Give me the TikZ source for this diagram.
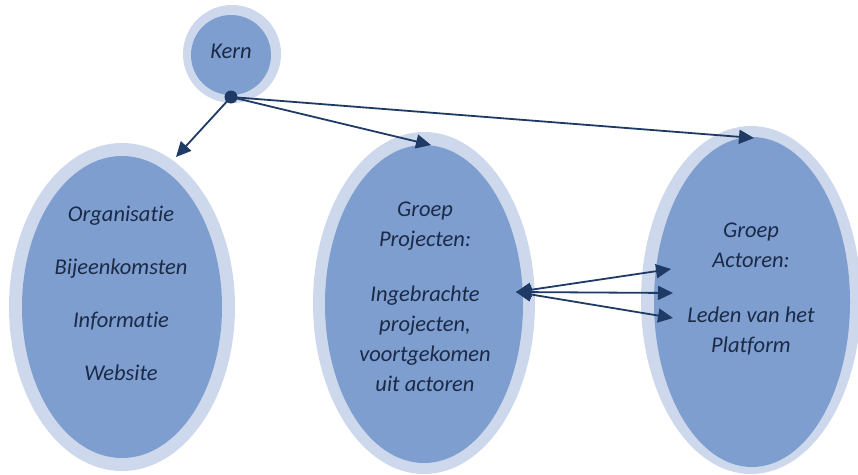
\documentclass[tikz,border=0pt]{standalone}
\usepackage{fontspec}
\setmainfont{Carlito}[Ligatures={NoCommon}]
\usetikzlibrary{shapes.geometric,arrows.meta}
\definecolor{ringc}{HTML}{CDD8EC}
\definecolor{fillc}{HTML}{7E9ECF}
\definecolor{txtc}{HTML}{1B2A47}
\definecolor{arrc}{HTML}{1F3A64}
\tikzset{
  ring/.style={ellipse, fill=ringc, draw=none, inner sep=0pt},
  core/.style={ellipse, fill=fillc, draw=none, inner sep=0pt},
  lbl/.style={text=txtc, font=\fontsize{22.5}{30}\selectfont\itshape, align=center, inner sep=0pt},
  conn/.style={draw=arrc, line width=1.8pt, -{Triangle[length=15pt,width=14pt]}},
  biconn/.style={draw=arrc, line width=1.8pt, {Triangle[length=15pt,width=14pt]}-{Triangle[length=15pt,width=14pt]}}
}
\begin{document}
\begin{tikzpicture}[x=1pt,y=-1pt]
\useasboundingbox (0,0) rectangle (858,474);
% Kern
\node[ring, minimum width=98pt, minimum height=98pt] (Ko) at (232,54) {};
\node[core, minimum width=80pt, minimum height=80pt] (Ki) at (231,55) {};
\node[lbl] (Kt) at (231,51) {Kern};
% left
\node[ring, minimum width=226pt, minimum height=328pt] (Lo) at (122,307) {};
\node[core, minimum width=200pt, minimum height=302pt] (Li) at (122,307) {};
\node[lbl] (Lt) at (121,293) {Organisatie\\[23pt]Bijeenkomsten\\[23pt]Informatie\\[23pt]Website};
% middle
\node[ring, minimum width=222pt, minimum height=342pt] (Mo) at (424,303) {};
\node[core, minimum width=198pt, minimum height=318pt] (Mi) at (424,304) {};
\node[lbl] (Mt) at (425,297) {Groep\\Projecten:\\[25pt]Ingebrachte\\projecten,\\voortgekomen\\uit actoren};
% right
\node[ring, minimum width=220pt, minimum height=348pt] (Ro) at (751,300) {};
\node[core, minimum width=196pt, minimum height=330pt] (Ri) at (752,302) {};
\node[lbl] (Rt) at (751,289) {Groep\\Actoren:\\[25pt]Leden van het\\Platform};
% connectors
\node[circle, fill=arrc, minimum size=13pt, inner sep=0pt] (dot) at (231,97) {};
\coordinate (tL) at (176,157);
\coordinate (tM) at (431,145);
\coordinate (tR) at (754,138);
\draw[conn] (dot.center) -- (tL);
\draw[conn] (dot.center) -- (tM);
\draw[conn] (dot.center) -- (tR);
\coordinate (pl) at (516,292);
\coordinate (r1) at (671,269);
\coordinate (r2) at (673,293);
\coordinate (r3) at (673,318);
\draw[biconn] (pl) -- (r1);
\draw[biconn] (pl) -- (r2);
\draw[biconn] (pl) -- (r3);
\end{tikzpicture}
\end{document}
